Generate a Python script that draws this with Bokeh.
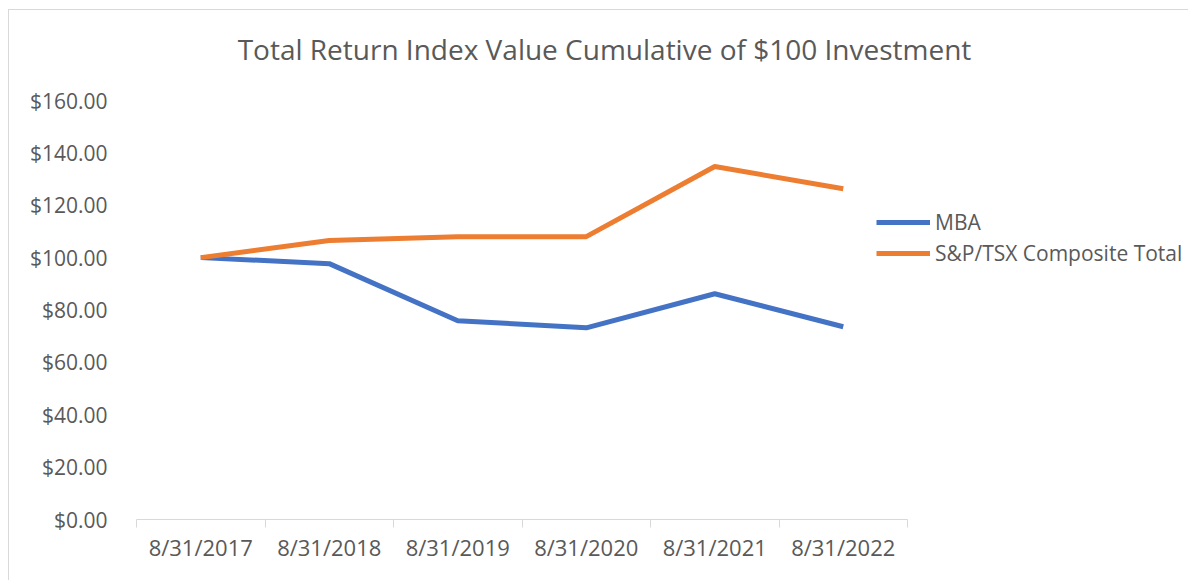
from bokeh.plotting import figure
from bokeh.models import Range1d, FixedTicker, NumeralTickFormatter, Legend, LegendItem, Label
from bokeh.embed import file_html
from bokeh.resources import INLINE

dates = ["8/31/2017", "8/31/2018", "8/31/2019", "8/31/2020", "8/31/2021", "8/31/2022"]
mba = [100.0, 97.7, 75.9, 73.2, 86.2, 73.6]
tsx = [100.0, 106.5, 108.0, 108.0, 134.8, 126.3]
y_ticks = [0, 20, 40, 60, 80, 100, 120, 140, 160]
title_text = "Total Return Index Value Cumulative of $100 Investment"

FONT = "Open Sans"
TXT = "#595959"

n = len(dates)
xs = [i + 0.5 for i in range(n)]
# frame spans 1053 px wide, categories occupy 771 px of it
x_end = n * 1053 / 771
# frame spans 509 px high, $0-$160 occupies 419 px of it
y_end = 160 * 509 / 419

p = figure(width=1180, height=571, output_backend="svg", toolbar_location=None,
           x_range=Range1d(0, x_end), y_range=Range1d(0, y_end),
           min_border_left=127, min_border_right=0, min_border_top=0, min_border_bottom=62,
           styles={"margin-left": "8px", "margin-top": "9px",
                   "border-top": "1px solid #d9d9d9", "border-left": "1px solid #d9d9d9"})
p.outline_line_color = None
p.xgrid.visible = False
p.ygrid.visible = False

title = Label(x=468, y=471, x_units="screen", y_units="screen", text=title_text,
              text_align="center", text_baseline="middle",
              text_font=FONT, text_font_size="28px", text_color=TXT)
p.add_layout(title)

l1 = p.line(xs, mba, line_color="#4472C4", line_width=5)
l2 = p.line(xs, tsx, line_color="#ED7D31", line_width=5)

# x axis
p.xaxis.bounds = (0, n)
p.xaxis.ticker = FixedTicker(ticks=xs, minor_ticks=list(range(n + 1)))
p.xaxis.major_label_overrides = {x: d for x, d in zip(xs, dates)}
p.xaxis.major_tick_out = 0
p.xaxis.major_tick_in = 0
p.xaxis.minor_tick_out = 8
p.xaxis.minor_tick_in = 0
p.xaxis.minor_tick_line_color = "#d9d9d9"
p.xaxis.axis_line_color = "#d9d9d9"
p.xaxis.major_label_text_font = FONT
p.xaxis.major_label_text_font_size = "22px"
p.xaxis.major_label_text_color = TXT
p.xaxis.major_label_standoff = 4

# y axis
p.yaxis.ticker = FixedTicker(ticks=y_ticks)
p.yaxis.formatter = NumeralTickFormatter(format="$0,0.00")
p.yaxis.axis_line_color = None
p.yaxis.major_tick_line_color = None
p.yaxis.minor_tick_line_color = None
p.yaxis.major_tick_out = 0
p.yaxis.major_tick_in = 0
p.yaxis.major_label_text_font = FONT
p.yaxis.major_label_text_font_size = "21px"
p.yaxis.major_label_text_color = TXT
p.yaxis.major_label_standoff = 29

legend = Legend(items=[LegendItem(label="MBA", renderers=[l1]),
                       LegendItem(label="S&P/TSX Composite Total", renderers=[l2])],
                location=(740, 252), orientation="vertical",
                glyph_width=54, glyph_height=20, label_height=20, spacing=3,
                label_standoff=5, padding=0, margin=0,
                border_line_alpha=0, background_fill_alpha=0,
                label_text_font=FONT, label_text_font_size="21px", label_text_color=TXT)
p.add_layout(legend, "center")

open("out.html", "w").write(file_html(p, INLINE))
